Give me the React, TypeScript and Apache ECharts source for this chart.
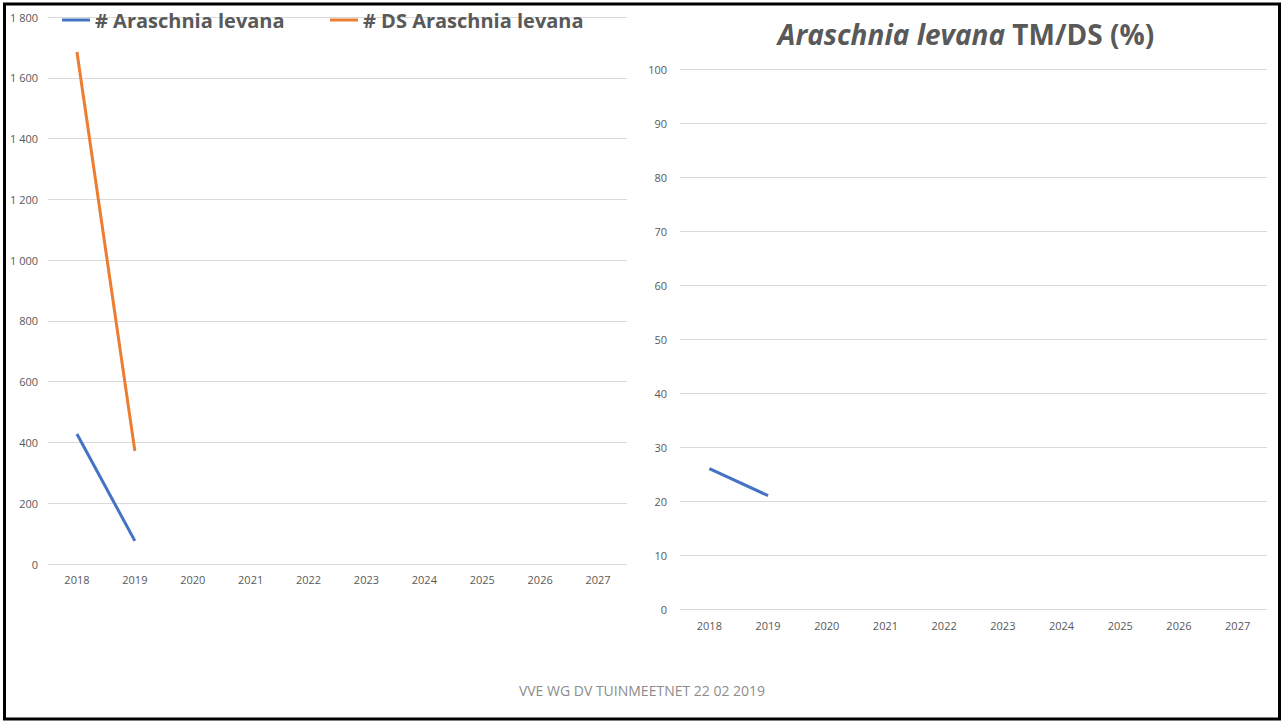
import React, { useEffect, useRef } from "react";
import * as echarts from "echarts";

const years = ["2018", "2019", "2020", "2021", "2022", "2023", "2024", "2025", "2026", "2027"];
const countSeries = [428, 76, null, null, null, null, null, null, null, null];
const dsSeries = [1685, 372, null, null, null, null, null, null, null, null];
const ratioSeries = [26, 21, null, null, null, null, null, null, null, null];
const countName = "# Araschnia levana";
const dsName = "# DS Araschnia levana";
const footer = "VVE WG DV TUINMEETNET 22 02 2019";

const FONT = "'Open Sans', 'Noto Sans', sans-serif";
const GRAY = "#595959";

function fmtThousands(v: number): string {
  const s = String(v);
  return s.length > 3 ? s.slice(0, s.length - 3) + " " + s.slice(-3) : s;
}

export default function App() {
  const ref = useRef<HTMLDivElement>(null);
  useEffect(() => {
    if (!ref.current) return;
    const chart = echarts.init(ref.current, undefined, { renderer: "svg" });
    const axisLabel = { color: GRAY, fontSize: 11, fontFamily: FONT };
    const splitLine = { show: true, lineStyle: { color: "#d9d9d9", width: 1 } };
    const legendText = { color: GRAY, fontSize: 20, fontWeight: "bold", fontFamily: FONT };
    chart.setOption({
      animation: false,
      backgroundColor: "#ffffff",
      title: {
        text: "{i|Araschnia levana} TM/DS (%)",
        left: 961,
        top: 15,
        textAlign: "center",
        textStyle: {
          fontFamily: FONT,
          fontSize: 28,
          fontWeight: "bold",
          color: GRAY,
          rich: {
            i: { fontFamily: FONT, fontSize: 28, fontWeight: "bold", fontStyle: "italic", color: GRAY },
          },
        },
      },
      legend: [
        {
          data: [countName],
          left: 57,
          top: 5,
          icon: "rect",
          itemWidth: 28,
          itemHeight: 3,
          textStyle: legendText,
        },
        {
          data: [dsName],
          left: 325,
          top: 5,
          icon: "rect",
          itemWidth: 28,
          itemHeight: 3,
          textStyle: legendText,
        },
      ],
      grid: [
        { left: 48, right: 656, top: 17, bottom: 158 },
        { left: 680, right: 16, top: 69, bottom: 113 },
      ],
      xAxis: [
        {
          type: "category",
          gridIndex: 0,
          data: years,
          boundaryGap: true,
          axisLine: { show: false },
          axisTick: { show: false },
          axisLabel: { ...axisLabel, margin: 10 },
        },
        {
          type: "category",
          gridIndex: 1,
          data: years,
          boundaryGap: true,
          axisLine: { show: false },
          axisTick: { show: false },
          axisLabel: { ...axisLabel, margin: 11 },
        },
      ],
      yAxis: [
        {
          type: "value",
          gridIndex: 0,
          min: 0,
          max: 1800,
          interval: 200,
          axisLine: { show: false },
          axisTick: { show: false },
          splitLine,
          axisLabel: { ...axisLabel, margin: 10, formatter: (v: number) => fmtThousands(v) },
        },
        {
          type: "value",
          gridIndex: 1,
          min: 0,
          max: 100,
          interval: 10,
          axisLine: { show: false },
          axisTick: { show: false },
          splitLine,
          axisLabel: { ...axisLabel, margin: 13 },
        },
      ],
      series: [
        {
          name: countName,
          type: "line",
          xAxisIndex: 0,
          yAxisIndex: 0,
          data: countSeries,
          showSymbol: false,
          symbol: "none",
          itemStyle: { color: "#4472C4" },
          lineStyle: { color: "#4472C4", width: 3 },
        },
        {
          name: dsName,
          type: "line",
          xAxisIndex: 0,
          yAxisIndex: 0,
          data: dsSeries,
          showSymbol: false,
          symbol: "none",
          itemStyle: { color: "#ED7D31" },
          lineStyle: { color: "#ED7D31", width: 3 },
        },
        {
          name: "TM/DS",
          type: "line",
          xAxisIndex: 1,
          yAxisIndex: 1,
          data: ratioSeries,
          showSymbol: false,
          symbol: "none",
          itemStyle: { color: "#4472C4" },
          lineStyle: { color: "#4472C4", width: 3 },
        },
      ],
      graphic: [
        {
          type: "rect",
          shape: { x: 4.5, y: 4, width: 1275, height: 715 },
          style: { fill: "none", stroke: "#000000", lineWidth: 3 },
          silent: true,
        },
        {
          type: "text",
          x: 642,
          y: 690,
          style: {
            text: footer,
            fill: "#8c8c8c",
            fontSize: 14,
            fontFamily: FONT,
            textAlign: "center",
            textVerticalAlign: "middle",
          },
        },
      ],
    });
    return () => chart.dispose();
  }, []);
  return (
    <div
      ref={ref}
      style={{ position: "fixed", left: 0, top: 0, width: 1283, height: 722, background: "#fff" }}
    />
  );
}
